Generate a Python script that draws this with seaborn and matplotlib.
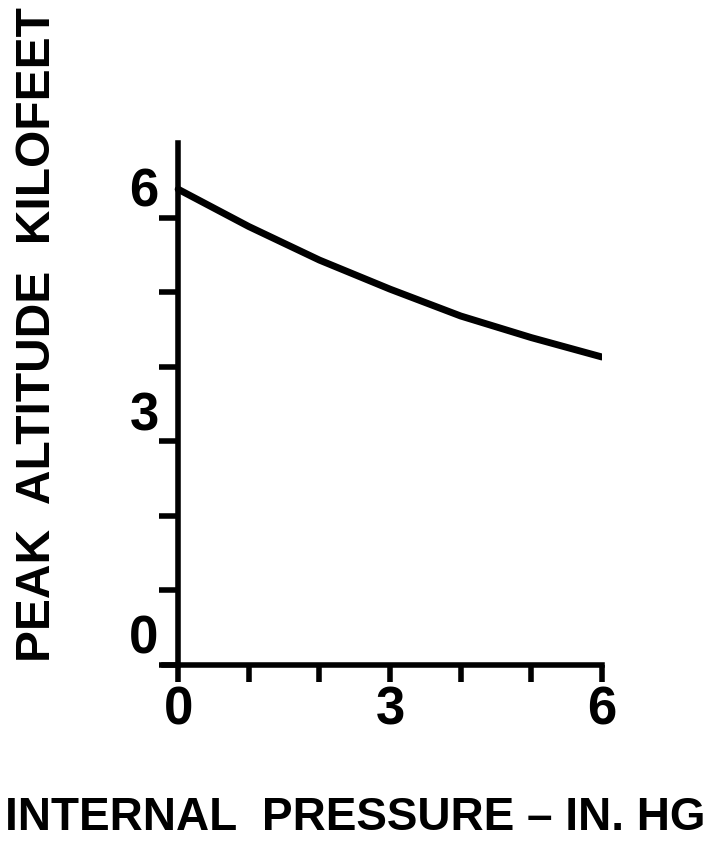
import matplotlib
matplotlib.use("Agg")
import matplotlib.pyplot as plt
import pandas as pd
import seaborn as sns

# values
pressure = [0, 1, 2, 3, 4, 5, 6]
altitude = [6.38, 5.88, 5.43, 5.04, 4.68, 4.39, 4.13]
x_ticks = [0, 1, 2, 3, 4, 5, 6]
x_labels = ["0", "", "", "3", "", "", "6"]
y_ticks = [0, 1, 2, 3, 4, 5, 6]
y_labels = ["0", "", "", "3", "", "", "6"]

df = pd.DataFrame({"pressure": pressure, "altitude": altitude})

sns.set_style("ticks", {"axes.edgecolor": "black", "xtick.color": "black",
                        "ytick.color": "black", "text.color": "black"})
plt.rcParams["font.family"] = ["Liberation Sans", "DejaVu Sans"]

fig = plt.figure(figsize=(7.1, 8.46), dpi=100)
ax = fig.add_axes([164 / 710, 1 - 665 / 846, 438 / 710, 522 / 846])

sns.lineplot(data=df, x="pressure", y="altitude", color="black",
             linewidth=5, ax=ax)

ax.set_xlim(-0.2, 6.0)
ax.set_ylim(0, 7)
ax.spines["left"].set_position(("data", 0))
ax.spines["top"].set_visible(False)
ax.spines["right"].set_visible(False)
for s in ["left", "bottom"]:
    ax.spines[s].set_linewidth(4)
    ax.spines[s].set_color("black")

ax.set_xticks(x_ticks)
ax.set_xticklabels(x_labels)
ax.set_yticks(y_ticks)
ax.set_yticklabels(y_labels)
ax.tick_params(axis="x", direction="out", length=12, width=4, pad=3,
               colors="black")
ax.tick_params(axis="y", direction="out", length=14, width=4, pad=0,
               colors="black")
for lab in ax.get_xticklabels() + ax.get_yticklabels():
    lab.set_fontsize(38)
    lab.set_fontweight("bold")
for lab in ax.get_yticklabels():
    lab.set_verticalalignment("bottom")

ax.set_xlabel("")
ax.set_ylabel("")

fig.text(355 / 710, 1 - 818 / 846, "INTERNAL  PRESSURE \u2013 IN. HG",
         ha="center", va="center", fontsize=33, fontweight="bold",
         color="black")
fig.text(38 / 710, 1 - 335 / 846, "PEAK  ALTITUDE  KILOFEET",
         ha="center", va="center", rotation=90, fontsize=34.5,
         fontweight="bold", color="black")

fig.savefig("out.png", dpi=100)
